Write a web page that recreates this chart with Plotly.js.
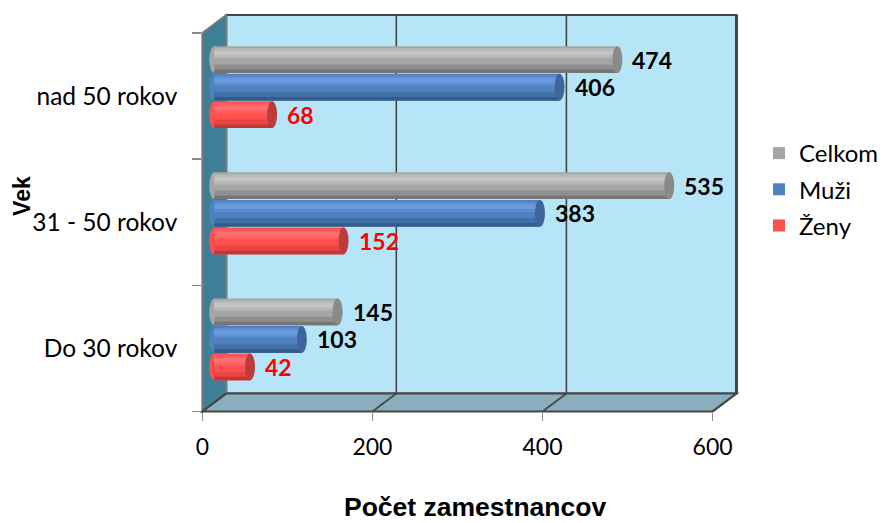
<!DOCTYPE html>
<html>
<head>
<meta charset="utf-8">
<script src="https://cdn.plot.ly/plotly-3.0.1.min.js"></script>
<style>html,body{margin:0;padding:0;background:#fff;}#chart{width:883px;height:523px;}</style>
</head>
<body>
<div id="chart"></div>
<script>
// ---- data ----
const categories = ["Do 30 rokov", "31 - 50 rokov", "nad 50 rokov"];
const seriesNames = ["Celkom", "Muži", "Ženy"];
const celkom = [145, 535, 474];
const muzi = [103, 383, 406];
const zeny = [42, 152, 68];
const xTickValues = [0, 200, 400, 600];
const xTitle = "Počet zamestnancov";
const yTitle = "Vek";

// ---- styles ----
const palette = [
  {mid:"#a6a6a6", dark1:"#8f8f8f", dark2:"#767676", light1:"#b7b7b7", light2:"#c4c4c4", cap:"#8a8a8a", label:"#000000"},
  {mid:"#4f81bd", dark1:"#416fa7", dark2:"#335a88", light1:"#5b8ed0", light2:"#679bdc", cap:"#3d679c", label:"#000000"},
  {mid:"#ff4f4f", dark1:"#e84545", dark2:"#bf3838", light1:"#ff5e5e", light2:"#ff6e6e", cap:"#bd3b3b", label:"#ff0000"}
];
const W = 883, H = 523;
const FX0 = 203, FX1 = 715, FY0 = 33, FY1 = 411.5; // front frame (px)
const DX = 24, DY = 18;                           // depth offset (px)
const XMAX = 600;
const scale = (FX1 - FX0) / XMAX;
const barZero = FX0 + DX / 2;
const px = x => x / W, py = y => 1 - y / H;

const seriesValues = [celkom, muzi, zeny];
const groupOffset = [0.218, 0, -0.218];
const bw = 0.212;
const bands = [
  {a:0, b:1, key:"mid", legend:true},
  {a:0, b:0.32, key:"dark1"},
  {a:0, b:0.13, key:"dark2"},
  {a:0.55, b:0.93, key:"light1"},
  {a:0.66, b:0.84, key:"light2"}
];

const traces = [];
const shapes = [];
const annotations = [];

// empty trace so the front (tick) axes are drawn
traces.push({type:"scatter", mode:"markers", x:[], y:[], xaxis:"x", yaxis:"y", showlegend:false, hoverinfo:"skip"});

seriesValues.forEach((vals, s) => {
  const col = palette[s];
  bands.forEach(bd => {
    traces.push({
      type: "bar", orientation: "h",
      x: vals, y: categories,
      xaxis: "x2", yaxis: "y2",
      name: seriesNames[s],
      legendgroup: seriesNames[s],
      showlegend: !!bd.legend,
      offset: groupOffset[s] - bw / 2 + bd.a * bw,
      width: (bd.b - bd.a) * bw,
      marker: {color: col[bd.key], line: {width: 0}},
      hoverinfo: "skip"
    });
  });
  vals.forEach((v, i) => {
    const y0 = i + groupOffset[s] - bw / 2, y1 = i + groupOffset[s] + bw / 2;
    shapes.push({type:"circle", xref:"x2", yref:"y2", xsizemode:"pixel", xanchor:0,
      x0:-5, x1:5, y0:y0, y1:y1, fillcolor:col.mid, line:{width:0}, layer:"below"});
    shapes.push({type:"circle", xref:"x2", yref:"y2", xsizemode:"pixel", xanchor:v,
      x0:-5, x1:5, y0:y0, y1:y1, fillcolor:col.cap, line:{width:0}, layer:"above"});
    annotations.push({xref:"x2", yref:"y2", x:v, y:i + groupOffset[s], text:String(v),
      showarrow:false, xanchor:"left", yanchor:"middle", xshift:13,
      font:{family:"Lato, 'Open Sans', sans-serif", size:23, color:col.label, weight:"bold"}});
  });
});

// ---- 3D frame (walls, floor, gridlines) ----
const edge = "#454545", edgeLight = "#7a7a7a";
shapes.push({type:"rect", xref:"paper", yref:"paper", x0:px(FX0+DX), x1:px(FX1+DX), y0:py(FY1-DY), y1:py(FY0-DY),
  fillcolor:"#b7e5f8", line:{color:edge, width:2}, layer:"below"});
shapes.push({type:"path", xref:"paper", yref:"paper", layer:"below",
  path:`M${px(FX0)},${py(FY0)} L${px(FX0+DX)},${py(FY0-DY)} L${px(FX0+DX)},${py(FY1-DY)} L${px(FX0)},${py(FY1)} Z`,
  fillcolor:"#3e7f98", line:{color:edgeLight, width:2}});
shapes.push({type:"path", xref:"paper", yref:"paper", layer:"below",
  path:`M${px(FX0)},${py(FY1)} L${px(FX0+DX)},${py(FY1-DY)} L${px(FX1+DX)},${py(FY1-DY)} L${px(FX1)},${py(FY1)} Z`,
  fillcolor:"#8aaebe", line:{color:edge, width:2}});
xTickValues.forEach(v => {
  const fx = FX0 + v * scale;
  shapes.push({type:"line", xref:"paper", yref:"paper", layer:"below",
    x0:px(fx), y0:py(FY1), x1:px(fx+DX), y1:py(FY1-DY), line:{color:edge, width:1.6}});
  if (v > 0 && v < XMAX) {
    shapes.push({type:"line", xref:"paper", yref:"paper", layer:"below",
      x0:px(fx+DX), y0:py(FY1-DY), x1:px(fx+DX), y1:py(FY0-DY), line:{color:edge, width:1.6}});
  }
});
shapes.push({type:"line", xref:"paper", yref:"paper", layer:"below",
  x0:px(FX1+DX), y0:py(FY1-DY), x1:px(FX1+DX), y1:py(FY0-DY), line:{color:edge, width:3}});

// titles
annotations.push({xref:"paper", yref:"paper", x:px(477), y:py(507), text:xTitle, showarrow:false,
  xanchor:"center", yanchor:"middle", font:{family:"'Liberation Sans', Arial, sans-serif", size:26.5, color:"#000", weight:"bold"}});
annotations.push({xref:"paper", yref:"paper", x:px(22), y:py(196), text:yTitle, showarrow:false, textangle:-90,
  xanchor:"center", yanchor:"middle", font:{family:"'Liberation Sans', Arial, sans-serif", size:23, color:"#000", weight:"bold"}});

const xTickFont = {family:"Lato, 'Open Sans', sans-serif", size:23, color:"#000"};
const yTickFont = {family:"Lato, 'Open Sans', sans-serif", size:24.5, color:"#000"};
const layout = {
  width: W, height: H,
  margin: {l:0, r:0, t:0, b:0},
  paper_bgcolor: "#ffffff", plot_bgcolor: "rgba(0,0,0,0)",
  barmode: "overlay",
  showlegend: true,
  legend: {x: px(762), y: py(131), xanchor:"left", yanchor:"top", traceorder:"grouped", tracegroupgap: 2,
    font:{family:"Lato, 'Open Sans', sans-serif", size:24, color:"#000"}, bgcolor:"rgba(0,0,0,0)", itemwidth:30},
  xaxis: {domain:[px(FX0), px(FX1)], range:[0, XMAX], tickvals:xTickValues, ticks:"outside", ticklen:8,
    tickcolor:"#8a8a8a", tickwidth:1.5, showgrid:false, zeroline:false, showline:false, tickfont:xTickFont,
    anchor:"y", ticklabelstandoff:7, fixedrange:true},
  yaxis: {domain:[py(FY1), py(FY0)], type:"category", categoryorder:"array", categoryarray:categories,
    range:[-0.5, 2.5], tickson:"boundaries", ticks:"outside", ticklen:9, tickcolor:"#8a8a8a", tickwidth:1.5,
    showgrid:false, zeroline:false, showline:false, tickfont:yTickFont, anchor:"x", ticklabelstandoff:24, fixedrange:true},
  xaxis2: {domain:[px(FX0), px(FX1+DX)], range:[(FX0 - barZero)/scale, (FX1 + DX - barZero)/scale],
    visible:false, anchor:"y2", fixedrange:true},
  yaxis2: {domain:[py(FY1-DY/2), py(FY0-DY/2)], type:"category", categoryorder:"array", categoryarray:categories,
    range:[-0.5, 2.5], visible:false, anchor:"x2", fixedrange:true},
  shapes: shapes,
  annotations: annotations
};
Plotly.newPlot("chart", traces, layout, {staticPlot:true, displayModeBar:false});
</script>
</body>
</html>
